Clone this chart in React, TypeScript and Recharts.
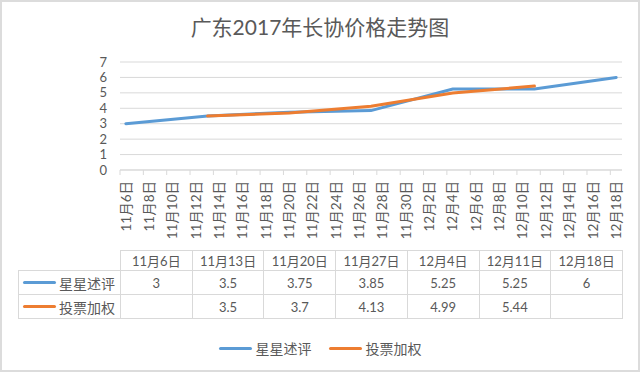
import React from "react";
import { LineChart, Line, XAxis, YAxis, CartesianGrid } from "recharts";

// 周次（数据表列头）
const weekDates = ["11月6日", "11月13日", "11月20日", "11月27日", "12月4日", "12月11日", "12月18日"];
// 星星述评
const starReview: (number | null)[] = [3, 3.5, 3.75, 3.85, 5.25, 5.25, 6];
// 投票加权
const voteWeighted: (number | null)[] = [null, 3.5, 3.7, 4.13, 4.99, 5.44, null];
// 日期轴刻度标签
const axisDates = [
  "11月6日", "11月8日", "11月10日", "11月12日", "11月14日", "11月16日", "11月18日",
  "11月20日", "11月22日", "11月24日", "11月26日", "11月28日", "11月30日", "12月2日",
  "12月4日", "12月6日", "12月8日", "12月10日", "12月12日", "12月14日", "12月16日", "12月18日",
];
const yTicks = [0, 1, 2, 3, 4, 5, 6, 7];

const SERIES = [
  { key: "star", name: "星星述评", color: "#5B9BD5", values: starReview },
  { key: "vote", name: "投票加权", color: "#ED7D31", values: voteWeighted },
];

const FONT = "Lato, 'Noto Sans CJK SC', sans-serif";
const TEXT = "#595959";
const GRID = "#d9d9d9";

// 以 11月6日 为第 0 天
function dayIndex(label: string): number {
  const m = label.match(/(\d+)月(\d+)日/);
  if (!m) return 0;
  const t = Date.UTC(2017, Number(m[1]) - 1, Number(m[2]));
  return Math.round((t - Date.UTC(2017, 10, 6)) / 86400000);
}

const lastDay = dayIndex(axisDates[axisDates.length - 1]);
const tickDays = axisDates.map(dayIndex);
const tickLabel = new Map(axisDates.map((d) => [dayIndex(d), d]));

const data = weekDates.map((d, i) => ({
  day: dayIndex(d),
  star: starReview[i],
  vote: voteWeighted[i],
}));

const PLOT_LEFT = 120;
const PLOT_RIGHT = 622;
const PLOT_W = PLOT_RIGHT - PLOT_LEFT;
const HALF_DAY = PLOT_W / (lastDay + 1) / 2;

function DateTick(props: any) {
  const { x, y, payload } = props;
  const ty = y + 11;
  return (
    <g>
      <line x1={x - HALF_DAY} x2={x - HALF_DAY} y1={y} y2={y + 5} stroke={GRID} />
      <text
        x={x}
        y={ty}
        dy="0.35em"
        textAnchor="end"
        transform={`rotate(-90, ${x}, ${ty})`}
        fill={TEXT}
        fontSize={13.5}
        fontFamily={FONT}
      >
        {tickLabel.get(payload.value)}
      </text>
    </g>
  );
}

const cell: React.CSSProperties = {
  border: `1px solid ${GRID}`,
  textAlign: "center",
  padding: 0,
  color: TEXT,
  fontSize: 13,
};

export default function App() {
  return (
    <div
      style={{
        position: "fixed",
        left: 0,
        top: 0,
        width: 640,
        height: 372,
        background: "#fff",
        fontFamily: FONT,
        overflow: "hidden",
      }}
    >
      <div
        style={{
          position: "absolute",
          top: 13,
          left: 0,
          width: 640,
          textAlign: "center",
          fontSize: 21,
          lineHeight: "28px",
          color: TEXT,
        }}
      >
        广东2017年长协价格走势图
      </div>

      <LineChart
        width={640}
        height={372}
        data={data}
        margin={{ top: 62, right: 640 - PLOT_RIGHT, left: PLOT_LEFT - 30, bottom: 122 }}
      >
        <CartesianGrid vertical={false} stroke={GRID} />
        <XAxis
          dataKey="day"
          type="number"
          domain={[-0.5, lastDay + 0.5]}
          ticks={tickDays}
          interval={0}
          height={80}
          tickSize={0}
          tickMargin={0}
          tickLine={false}
          axisLine={{ stroke: GRID }}
          tick={<DateTick />}
        />
        <YAxis
          type="number"
          domain={[0, 7]}
          ticks={yTicks}
          interval={0}
          width={30}
          axisLine={false}
          tickLine={false}
          tickSize={0}
          tickMargin={13}
          tick={{ fill: TEXT, fontSize: 13, fontFamily: FONT }}
        />
        {SERIES.map((s) => (
          <Line
            key={s.key}
            dataKey={s.key}
            name={s.name}
            type="linear"
            stroke={s.color}
            strokeWidth={3}
            strokeLinecap="round"
            dot={false}
            activeDot={false}
            isAnimationActive={false}
          />
        ))}
      </LineChart>

      <table
        style={{
          position: "absolute",
          top: 250,
          left: 18,
          width: PLOT_RIGHT - 18 + 1,
          borderCollapse: "collapse",
          tableLayout: "fixed",
          fontFamily: FONT,
        }}
      >
        <colgroup>
          <col style={{ width: PLOT_LEFT - 18 }} />
          {weekDates.map((d) => (
            <col key={d} style={{ width: PLOT_W / weekDates.length }} />
          ))}
        </colgroup>
        <tbody>
          <tr style={{ height: 18 }}>
            <td style={{ padding: 0, border: "none" }} />
            {weekDates.map((d) => (
              <td key={d} style={cell}>
                {d}
              </td>
            ))}
          </tr>
          {SERIES.map((s) => (
            <tr key={s.key} style={{ height: 24 }}>
              <td style={{ ...cell, textAlign: "left" }}>
                <span style={{ display: "flex", alignItems: "center" }}>
                  <span
                    style={{
                      display: "inline-block",
                      width: 33,
                      height: 3,
                      borderRadius: 2,
                      background: s.color,
                      marginLeft: 4,
                      marginRight: 3,
                    }}
                  />
                  <span style={{ fontSize: 14 }}>{s.name}</span>
                </span>
              </td>
              {s.values.map((v, i) => (
                <td key={i} style={cell}>
                  {v == null ? "" : v}
                </td>
              ))}
            </tr>
          ))}
        </tbody>
      </table>

      <div
        style={{
          position: "absolute",
          top: 338,
          left: 0,
          width: 640,
          height: 20,
          display: "flex",
          justifyContent: "center",
          alignItems: "center",
          gap: 17,
        }}
      >
        {SERIES.map((s) => (
          <div key={s.key} style={{ display: "flex", alignItems: "center" }}>
            <span
              style={{
                display: "inline-block",
                width: 33,
                height: 3,
                borderRadius: 2,
                background: s.color,
                marginRight: 4,
              }}
            />
            <span style={{ fontSize: 14, color: TEXT }}>{s.name}</span>
          </div>
        ))}
      </div>

      <div
        style={{
          position: "absolute",
          inset: 0,
          border: "2px solid #dcdcdc",
          boxSizing: "border-box",
          pointerEvents: "none",
        }}
      />
    </div>
  );
}
